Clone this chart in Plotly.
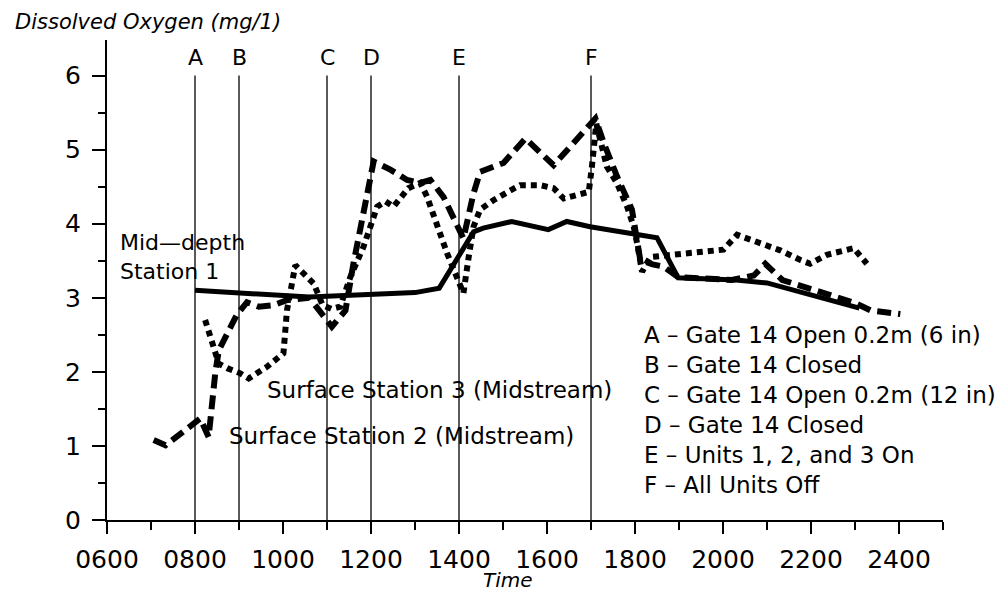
import plotly.graph_objects as go

# ---- data (time in decimal hours, DO in mg/l) ----
mid1_time = [8.0, 9.0, 10.0, 10.6, 11.0, 12.0, 13.0, 13.55, 14.33, 14.55, 15.2, 16.03,
             16.45, 16.98, 17.96, 18.5, 18.98, 20.3, 21.0, 23.1]
mid1_do = [3.10, 3.07, 3.03, 3.01, 3.02, 3.05, 3.07, 3.13, 3.89, 3.94, 4.03, 3.92,
           4.03, 3.96, 3.87, 3.81, 3.27, 3.24, 3.20, 2.86]

surf2_time = [7.06, 7.33, 8.12, 8.31, 8.46, 8.54, 8.95, 9.18, 9.45, 9.78, 10.1, 10.6,
              11.11, 11.42, 11.6, 12.06, 12.44, 12.82, 13.12, 13.35, 13.65, 13.95,
              14.1, 14.33, 14.48, 15.01, 15.51, 16.15, 16.68, 17.1, 17.29, 17.59,
              17.93, 18.12, 18.4, 18.65, 18.98, 20.2, 20.7, 20.96, 21.35, 21.9,
              22.5, 23.0, 23.35, 24.03]
surf2_do = [1.08, 1.01, 1.37, 1.12, 1.98, 2.29, 2.77, 2.94, 2.88, 2.90, 2.97, 3.0,
            2.61, 2.83, 3.46, 4.84, 4.73, 4.59, 4.55, 4.59, 4.36, 4.0,
            3.8, 4.41, 4.70, 4.82, 5.15, 4.79, 5.13, 5.42, 5.09, 4.64,
            4.19, 3.51, 3.45, 3.42, 3.28, 3.24, 3.3, 3.46, 3.24, 3.14,
            3.03, 2.93, 2.83, 2.78]

surf3_time = [8.23, 8.54, 8.73, 9.03, 9.22, 9.64, 10.01, 10.09, 10.28, 10.5, 10.7,
              10.9, 11.1, 11.3, 11.53, 11.83, 11.98, 12.14, 12.33, 12.51, 12.85,
              13.12, 13.27, 13.5, 13.73, 13.95, 14.1, 14.22, 14.33, 14.48, 14.79,
              15.17, 15.39, 15.85, 16.15, 16.38, 16.6, 16.95, 17.02, 17.06, 17.12,
              17.36, 17.59, 17.82, 17.97, 18.05, 18.16, 18.35, 18.92, 19.49, 20.01,
              20.32, 20.77, 21.3, 21.76, 21.98, 22.36, 22.97, 23.27]
surf3_do = [2.70, 2.11, 2.05, 1.98, 1.91, 2.07, 2.25, 2.83, 3.44, 3.32, 3.19,
            2.9, 2.85, 2.88, 3.28, 3.69, 3.96, 4.23, 4.30, 4.23, 4.48,
            4.55, 4.37, 3.96, 3.6, 3.28, 3.06, 3.55, 3.96, 4.19, 4.32,
            4.45, 4.52, 4.52, 4.48, 4.34, 4.37, 4.43, 4.77, 5.04, 5.35,
            4.77, 4.55, 4.23, 3.96, 3.73, 3.35, 3.55, 3.58, 3.62, 3.65,
            3.85, 3.76, 3.64, 3.51, 3.46, 3.58, 3.67, 3.46]

event_labels = ["A", "B", "C", "D", "E", "F"]
event_times = [8, 9, 11, 12, 14, 17]
event_text = ["Gate 14 Open 0.2m (6 in)", "Gate 14 Closed", "Gate 14 Open 0.2m (12 in)",
              "Gate 14 Closed", "Units 1, 2, and 3 On", "All Units Off"]

x_tickvals = [6, 8, 10, 12, 14, 16, 18, 20, 22, 24]
x_ticktext = ["0600", "0800", "1000", "1200", "1400", "1600", "1800", "2000", "2200", "2400"]
y_tickvals = [0, 1, 2, 3, 4, 5, 6]

FONT = "DejaVu Sans ExtraLight, DejaVu Sans"

fig = go.Figure()
fig.add_trace(go.Scatter(x=mid1_time, y=mid1_do, mode="lines",
                         line=dict(color="black", width=5), name="Mid-depth Station 1"))
fig.add_trace(go.Scatter(x=surf2_time, y=surf2_do, mode="lines",
                         line=dict(color="black", width=6, dash="14px,7px"),
                         name="Surface Station 2"))
fig.add_trace(go.Scatter(x=surf3_time, y=surf3_do, mode="lines",
                         line=dict(color="black", width=6, dash="6px,5px"),
                         name="Surface Station 3"))

for lab, t in zip(event_labels, event_times):
    fig.add_shape(type="line", xref="x", yref="y", x0=t, x1=t, y0=0, y1=6,
                  line=dict(color="black", width=1.3), layer="below")
    fig.add_annotation(x=t, y=6, xref="x", yref="y", text=lab, showarrow=False,
                       yanchor="bottom", yshift=4, font=dict(size=22, family=FONT, color="black"))

legend_lines = [f"{l} – {s}" for l, s in zip(event_labels, event_text)]
fig.add_annotation(x=18.15, y=1.49, xref="x", yref="y", text="<br>".join(legend_lines),
                   showarrow=False, xanchor="left", yanchor="middle", align="left",
                   font=dict(size=23, family=FONT, color="black"))

fig.add_annotation(x=6.26, y=3.55, xref="x", yref="y", text="Mid—depth<br>Station 1",
                   showarrow=False, xanchor="left", yanchor="middle", align="left",
                   font=dict(size=22, family=FONT, color="black"))
fig.add_annotation(x=9.6, y=1.75, xref="x", yref="y", text="Surface Station 3 (Midstream)",
                   showarrow=False, xanchor="left", yanchor="middle",
                   font=dict(size=23, family=FONT, color="black"))
fig.add_annotation(x=8.73, y=1.14, xref="x", yref="y", text="Surface Station 2 (Midstream)",
                   showarrow=False, xanchor="left", yanchor="middle",
                   font=dict(size=23, family=FONT, color="black"))

fig.add_annotation(x=-0.112, y=1.037, xref="paper", yref="paper",
                   text="<i>Dissolved Oxygen (mg/1)</i>", showarrow=False,
                   xanchor="left", yanchor="middle", font=dict(size=21, family=FONT, color="black"))
fig.add_annotation(x=0.48, y=-0.126, xref="paper", yref="paper", text="<i>Time</i>",
                   showarrow=False, xanchor="center", yanchor="middle",
                   font=dict(size=20, family=FONT, color="black"))

fig.update_layout(
    width=1005, height=595,
    margin=dict(l=107, r=62, t=40, b=75),
    paper_bgcolor="white", plot_bgcolor="white",
    showlegend=False,
    font=dict(family=FONT, color="black"),
    xaxis=dict(range=[6, 25], tickvals=x_tickvals, ticktext=x_ticktext,
               showgrid=False, zeroline=False, showline=True, linecolor="black", linewidth=2,
               ticks="outside", ticklen=12, tickwidth=2, tickcolor="black",
               ticklabelstandoff=4,
               tickfont=dict(size=25, family=FONT, color="black"),
               minor=dict(dtick=1, tick0=6, ticks="outside", ticklen=8, tickwidth=2, tickcolor="black")),
    yaxis=dict(range=[0, 6.48], tickvals=y_tickvals,
               showgrid=False, zeroline=False, showline=True, linecolor="black", linewidth=2,
               ticks="outside", ticklen=13, tickwidth=2, tickcolor="black",
               ticklabelstandoff=6,
               tickfont=dict(size=25, family=FONT, color="black"),
               minor=dict(dtick=0.5, tick0=0, ticks="outside", ticklen=7, tickwidth=2, tickcolor="black")),
)

fig.write_html("out.html")
